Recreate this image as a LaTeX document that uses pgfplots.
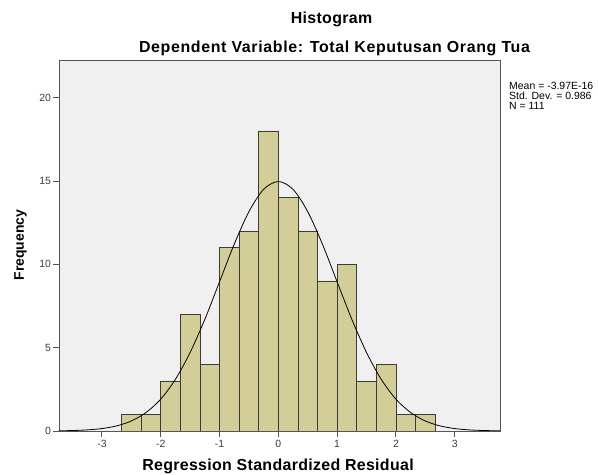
\documentclass[border=0pt]{standalone}
\usepackage{pgfplots}
\pgfplotsset{compat=1.18}
\usepackage{fontspec}
\setmainfont{Liberation Sans}
\definecolor{barfill}{RGB}{211,206,152}
\definecolor{bgc}{RGB}{240,240,240}
\definecolor{framec}{RGB}{85,85,85}
\definecolor{tickc}{RGB}{60,60,60}
\definecolor{edgec}{RGB}{60,60,55}
\begin{document}
\begin{tikzpicture}[x=1bp,y=1bp]
\begin{axis}[
  at={(0,0)}, anchor=south west,
  scale only axis, width=441bp, height=370bp,
  xmin=-3.73, xmax=3.77, ymin=0, ymax=22.2,
  axis background/.style={fill=bgc},
  axis line style={framec, line width=1pt},
  xtick={-3,-2,-1,0,1,2,3}, ytick={0,5,10,15,20},
  xtick pos=bottom, ytick pos=left,
  tick align=outside, major tick length=6bp,
  tick style={framec, line width=0.9pt},
  ticklabel style={font=\fontsize{10.5}{11}\selectfont, text=tickc},
  /pgf/number format/assume math mode=true,
  xticklabel style={yshift=0.5bp},
  yticklabel style={xshift=1.5bp},
]
\addplot[ybar interval, fill=barfill, draw=edgec, line width=0.8pt] coordinates {
(-2.6667,1) (-2.3333,1) (-2,3) (-1.6667,7) (-1.3333,4) (-1,11) (-0.6667,12) (-0.3333,18) (0,14) (0.3333,12) (0.6667,9) (1,10) (1.3333,3) (1.6667,4) (2,1) (2.3333,1) (2.6667,1)
};
\addplot[black, line width=0.8pt, smooth] coordinates {
(-3.75,0.011) (-3.5,0.028) (-3.25,0.066) (-3,0.146) (-2.75,0.306) (-2.5,0.601) (-2.25,1.108) (-2,1.91) (-1.75,3.10) (-1.5,4.71) (-1.25,6.70) (-1,8.95) (-0.75,11.21) (-0.5,13.16) (-0.25,14.50) (0,14.97) (0.25,14.50) (0.5,13.16) (0.75,11.21) (1,8.95) (1.25,6.70) (1.5,4.71) (1.75,3.10) (2,1.91) (2.25,1.108) (2.5,0.601) (2.75,0.306) (3,0.146) (3.25,0.066) (3.5,0.028) (3.75,0.011) (3.9,0.004)
};
\end{axis}
\path[use as bounding box] (-59,-44) rectangle (539,431);
\node[font=\bfseries\fontsize{16}{18}\selectfont\addfontfeatures{LetterSpace=2}] at (272.5,412) {Histogram};
\node[font=\bfseries\fontsize{16}{18}\selectfont\addfontfeatures{LetterSpace=4}] at (275.5,383) {Dependent Variable: Total Keputusan Orang Tua};
\node[font=\bfseries\fontsize{14}{16}\selectfont, rotate=90] at (-38.5,186) {Frequency};
\node[font=\bfseries\fontsize{16}{18}\selectfont\addfontfeatures{LetterSpace=2}] at (219,-35) {Regression Standardized Residual};
\node[font=\fontsize{10.5}{9.6}\selectfont, align=left, anchor=north west, inner sep=0pt] at (450,348.5) {Mean = -3.97E-16\\Std. Dev. = 0.986\\N = 111};
\end{tikzpicture}
\end{document}
